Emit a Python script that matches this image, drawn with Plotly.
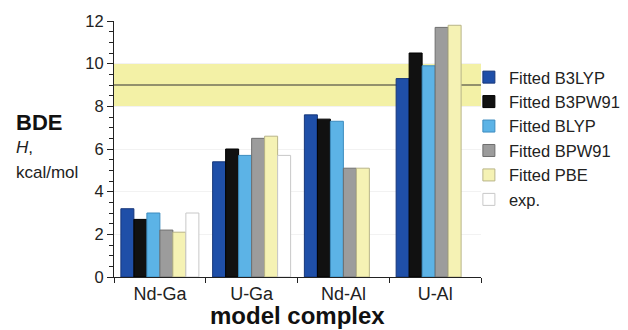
import plotly.graph_objects as go

# Model complexes and bond dissociation enthalpies (kcal/mol)
complexes = ["Nd-Ga", "U-Ga", "Nd-Al", "U-Al"]
series_names = ["Fitted B3LYP", "Fitted B3PW91", "Fitted BLYP", "Fitted BPW91", "Fitted PBE", "exp."]
b3lyp = [3.2, 5.4, 7.6, 9.3]
b3pw91 = [2.7, 6.0, 7.4, 10.5]
blyp = [3.0, 5.7, 7.3, 9.9]
bpw91 = [2.2, 6.5, 5.1, 11.7]
pbe = [2.1, 6.6, 5.1, 11.8]
exp_vals = [3.0, 5.7, None, None]

# Reference band and its central line
band_low, band_high, band_mid = 8, 10, 9

values = [b3lyp, b3pw91, blyp, bpw91, pbe, exp_vals]
fills = ["#1f4fa8", "#111111", "#5cb3e6", "#9c9c9c", "#f5f2b4", "#ffffff"]
edges = ["#17377a", "#000000", "#3d8cbf", "#6e6e6e", "#b8b488", "#c8c8c8"]

FONT = "Arial, Liberation Sans, Helvetica, sans-serif"

fig = go.Figure()
for name, vals, fc, ec in zip(series_names, values, fills, edges):
    fig.add_trace(go.Bar(
        x=complexes, y=vals, name=name,
        marker=dict(color=fc, line=dict(color=ec, width=1)),
    ))

fig.add_shape(type="rect", xref="paper", yref="y", x0=0, x1=1,
              y0=band_low, y1=band_high, fillcolor="#f3f1a6",
              line=dict(width=0), layer="below")
fig.add_shape(type="line", xref="paper", yref="y", x0=0, x1=1,
              y0=band_mid, y1=band_mid, line=dict(color="#333333", width=1.2),
              layer="below")

# Y-axis title block
fig.add_annotation(text="<b>BDE</b>", xref="paper", yref="paper", x=-0.272, y=0.602,
                   xanchor="left", yanchor="middle", showarrow=False,
                   font=dict(family=FONT, size=22, color="#111111"))
fig.add_annotation(text="<i>H</i>,", xref="paper", yref="paper", x=-0.272, y=0.504,
                   xanchor="left", yanchor="middle", showarrow=False,
                   font=dict(family=FONT, size=17, color="#222222"))
fig.add_annotation(text="kcal/mol", xref="paper", yref="paper", x=-0.272, y=0.41,
                   xanchor="left", yanchor="middle", showarrow=False,
                   font=dict(family=FONT, size=17, color="#222222"))

# X-axis title
fig.add_annotation(text="<b>model complex</b>", xref="paper", yref="paper", x=0.5, y=-0.152,
                   xanchor="center", yanchor="middle", showarrow=False,
                   font=dict(family=FONT, size=24, color="#111111"))

fig.update_layout(
    width=628, height=330,
    margin=dict(l=114, r=147, t=21, b=53, autoexpand=False),
    paper_bgcolor="white", plot_bgcolor="white",
    barmode="group", bargap=0.15, bargroupgap=0,
    font=dict(family=FONT, size=16, color="#222222"),
    legend=dict(x=0.967, y=0.848, xanchor="left", yanchor="top",
                font=dict(family=FONT, size=16.5, color="#222222"),
                bgcolor="rgba(0,0,0,0)", itemclick=False),
    showlegend=True,
)
fig.update_xaxes(
    type="category", range=[-0.5, 3.5],
    showline=True, linecolor="#222222", linewidth=1,
    ticks="outside", tickson="boundaries", ticklen=5, tickcolor="#222222",
    showgrid=False, zeroline=False,
    tickfont=dict(family=FONT, size=18, color="#222222"),
)
fig.update_yaxes(
    range=[0, 12], dtick=2,
    showline=True, linecolor="#222222", linewidth=1,
    ticks="outside", ticklen=6, tickcolor="#222222",
    minor=dict(dtick=0.5, ticks="outside", ticklen=4, tickcolor="#222222", showgrid=False),
    showgrid=True, gridcolor="#f2f2f2", zeroline=False,
    tickfont=dict(family=FONT, size=16.5, color="#222222"),
)

fig.write_html("out.html")
